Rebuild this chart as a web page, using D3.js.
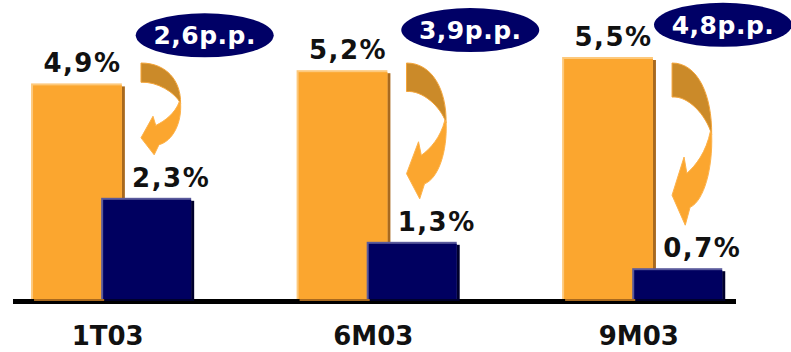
<!DOCTYPE html>
<html>
<head>
<meta charset="utf-8">
<script src="https://cdn.jsdelivr.net/npm/d3@7"></script>
<style>
  html, body { margin: 0; padding: 0; background: #fff; }
  svg { display: block; font-family: "DejaVu Sans", Verdana, sans-serif; }
</style>
</head>
<body>
<svg id="chart"></svg>
<script>
const categories = ["1T03", "6M03", "9M03"];
const totalValues = [4.9, 5.2, 5.5];
const netValues = [2.3, 1.3, 0.7];
const diffLabels = ["2,6p.p.", "3,9p.p.", "4,8p.p."];

const fmt = (v) => d3.format(".1f")(v).replace(".", ",") + "%";

const width = 791,
      height = 352,
      baseY = 299,
      svg = d3.select("#chart")
              .attr("width", width)
              .attr("height", height);

const x = d3.scaleBand()
    .domain(categories)
    .range([4.5, 748])
    .paddingInner(0.4)
    .paddingOuter(0.1);

const y = d3.scaleLinear()
    .domain([0, 6])
    .range([baseY, baseY - 6 * 44]);

const bw = x.bandwidth(),
      orangeW = bw * 0.57,
      navyX = bw * 0.44,
      navyW = bw * 0.565;

const data = categories.map((c, i) => ({
    cat: c,
    total: totalValues[i],
    net: netValues[i],
    diff: diffLabels[i]
}));

// baseline
svg.append("rect")
    .attr("x", 13)
    .attr("y", baseY)
    .attr("width", 723)
    .attr("height", 5)
    .attr("fill", "#000");

function bar(g, bx, by, w, h, c) {
    g.append("rect")
        .attr("x", bx + 3).attr("y", by + 3)
        .attr("width", w).attr("height", h - 1)
        .attr("fill", c.shadow);
    g.append("rect")
        .attr("x", bx).attr("y", by)
        .attr("width", w).attr("height", h)
        .attr("fill", c.light);
    g.append("rect")
        .attr("x", bx + 2).attr("y", by + 2)
        .attr("width", w - 2).attr("height", h - 2)
        .attr("fill", c.main);
}

const orange = { main: "#FBA62F", light: "#FDC97C", shadow: "#A8691E" },
      navy = { main: "#000060", light: "#5A5A9C", shadow: "#00002C" };

const groups = svg.selectAll(".grp")
    .data(data)
    .enter().append("g")
        .attr("class", "grp")
        .attr("transform", (d) => `translate(${x(d.cat)},0)`);

groups.each(function(d) {
    const g = d3.select(this);
    bar(g, 0, y(d.total), orangeW, baseY - y(d.total), orange);
    bar(g, navyX, y(d.net), navyW, baseY - y(d.net), navy);
});

// value labels
groups.append("text")
    .attr("x", orangeW / 2 + 6)
    .attr("y", (d) => y(d.total) - 11)
    .attr("text-anchor", "middle")
    .attr("font-size", 26)
    .attr("font-weight", "bold")
    .attr("letter-spacing", 1.5)
    .attr("fill", "#111")
    .text((d) => fmt(d.total));

groups.append("text")
    .attr("x", navyX + navyW / 2 + 25)
    .attr("y", (d) => y(d.net) - 11)
    .attr("text-anchor", "middle")
    .attr("font-size", 26)
    .attr("font-weight", "bold")
    .attr("letter-spacing", 1.5)
    .attr("fill", "#111")
    .text((d) => fmt(d.net));

// curved arrows
const arrowW = 40,
      arrowX = bw * 0.69,
      arrowTop = 63;

function arrowParts(d) {
    const H = y(d.net) - 43 - arrowTop;
    const p = (u, v) => [arrowX + u * arrowW, arrowTop + v * H];
    const dark = `M${p(0, 0)} C${p(0.65, 0)} ${p(1.0, 0.2)} ${p(0.99, 0.44)}
                  C${p(0.85, 0.32)} ${p(0.4, 0.2)} ${p(0, 0.21)} Z`;
    const light = `M${p(0.99, 0.44)} C${p(1.02, 0.65)} ${p(0.8, 0.85)} ${p(0.45, 0.89)}
                   L${p(0.33, 1.0)} L${p(0, 0.815)} L${p(0.3, 0.58)} L${p(0.37, 0.68)}
                   C${p(0.6, 0.63)} ${p(0.85, 0.55)} ${p(0.96, 0.42)} Z`;
    return { dark, light };
}

groups.append("path")
    .attr("d", (d) => arrowParts(d).dark)
    .attr("fill", "#CB8A29")
    .attr("stroke", "#F4A53A")
    .attr("stroke-width", 1);

groups.append("path")
    .attr("d", (d) => arrowParts(d).light)
    .attr("fill", "#FBA62F")
    .attr("stroke", "#FDB24A")
    .attr("stroke-width", 1);

// difference bubbles
const bubble = groups.append("g")
    .attr("transform", (d) => `translate(${Math.min(bw * 1.09, 723 - x(d.cat))},${y(d.total) * 0.4 + 2})`);

bubble.append("ellipse")
    .attr("rx", 69)
    .attr("ry", 22)
    .attr("fill", "#000066");

bubble.append("text")
    .attr("y", 9)
    .attr("text-anchor", "middle")
    .attr("font-size", 25)
    .attr("font-weight", "bold")
    .attr("letter-spacing", 0.5)
    .attr("fill", "#fff")
    .text((d) => d.diff);

// category labels
svg.selectAll(".cat")
    .data(categories)
    .enter().append("text")
        .attr("class", "cat")
        .attr("x", (d) => x(d) + bw / 2 - 3)
        .attr("y", 345)
        .attr("text-anchor", "middle")
        .attr("font-size", 26)
        .attr("font-weight", "bold")
        .attr("fill", "#111")
        .text((d) => d);
</script>
</body>
</html>
